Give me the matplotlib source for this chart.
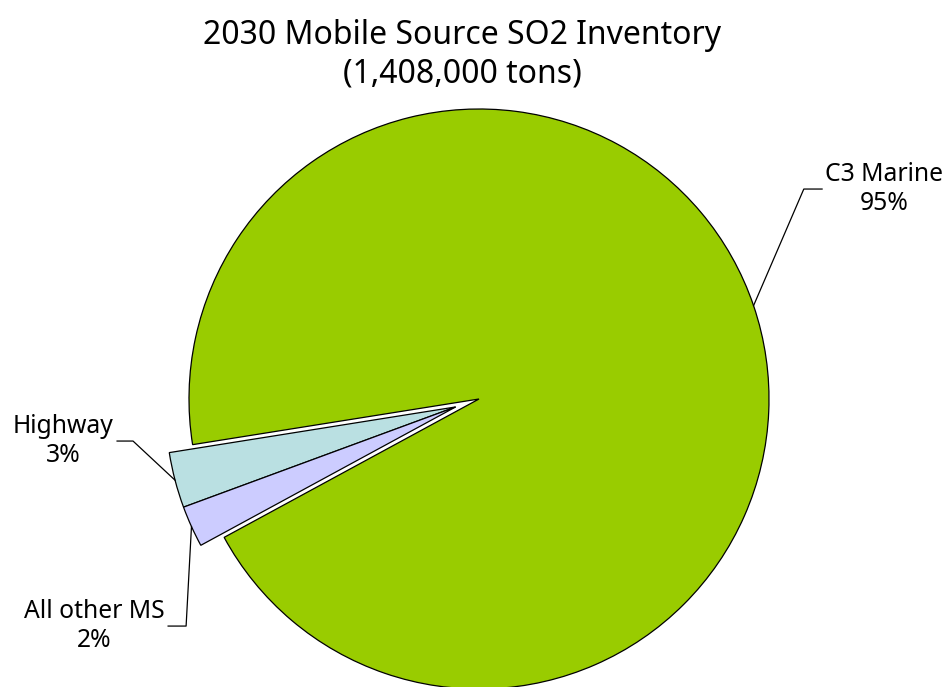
import numpy as np
import matplotlib
matplotlib.use("Agg")
import matplotlib.pyplot as plt

# data (share of 2030 mobile source SO2, percent)
categories = ["C3 Marine", "Highway", "All other MS"]
shares = [94.6, 3.1, 2.3]
colors = ["#99CC00", "#BAE0E2", "#CCCCFF"]
title = "2030 Mobile Source SO2 Inventory\n(1,408,000 tons)"

plt.rcParams['font.family'] = ['Noto Sans', 'DejaVu Sans']

W, H = 948, 687
fig = plt.figure(figsize=(W / 100, H / 100), dpi=100)
ax = fig.add_axes([0, 0, 1, 1])

# pie centre at pixel (479, 399), radius 290 px
cx, cy, R = 479, 399, 290

wedges, _ = ax.pie(shares, colors=colors, startangle=208.5, counterclock=True,
                   radius=1.0, center=(0, 0), frame=True,
                   wedgeprops=dict(edgecolor="black", linewidth=0.9))
ax.set_xlim(-cx / R, (W - cx) / R)
ax.set_ylim(-(H - cy) / R, cy / R)
ax.axis('off')

# pull the two small slices out together
t_lo = wedges[1].theta1
t_hi = wedges[2].theta2
mid = np.deg2rad((t_lo + t_hi) / 2)
off = 0.085
for w in wedges[1:]:
    w.set_center((off * np.cos(mid), off * np.sin(mid)))

# labels with leader lines
pct = [f"{round(s)}%" for s in shares]
elbows = [(1.12, 0.724), (-1.193, -0.145), (-1.010, -0.783)]
anchors = [(1.183, 0.724), (-1.248, -0.145), (-1.072, -0.783)]
fs = 17.8

for i, w in enumerate(wedges):
    a = np.deg2rad((w.theta1 + w.theta2) / 2)
    c = w.center
    px = c[0] + w.r * np.cos(a)
    py = c[1] + w.r * np.sin(a)
    ex, ey = elbows[i]
    lx, ly = anchors[i]
    ax.plot([px, ex, lx], [py, ey, ly], color="black", lw=0.9)
    if lx > 0:
        ax.text(lx + 0.01, ly, f"{categories[i]}\n{pct[i]}", ha='left', va='center',
                multialignment='center', fontsize=fs, linespacing=1.25)
    else:
        ax.text(lx - 0.012, ly, f"{categories[i]}\n{pct[i]}", ha='right', va='center',
                multialignment='center', fontsize=fs, linespacing=1.25)

fig.text(462 / W, 1 - 55 / H, title, ha='center', va='center', fontsize=23,
         linespacing=1.2)

fig.savefig("out.png", dpi=100)
